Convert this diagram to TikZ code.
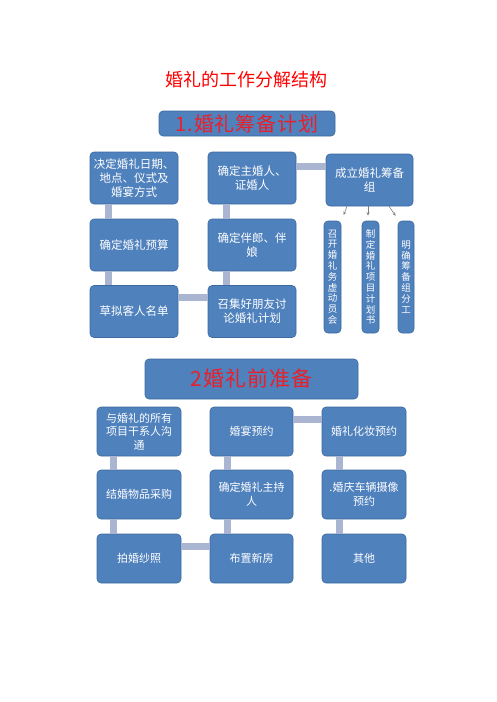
\documentclass[tikz,border=0pt]{standalone}
\usepackage{fontspec}
\setmainfont{Noto Sans CJK SC}
\usetikzlibrary{arrows.meta}
\definecolor{boxblue}{HTML}{4F81BD}
\definecolor{boxedge}{HTML}{3D6A9E}
\definecolor{barcol}{HTML}{A9B5D1}
\definecolor{headred}{HTML}{E8202A}

\begin{document}
\begin{tikzpicture}[x=1pt, y=-1pt,
	box/.style={draw=boxedge, fill=boxblue, line width=0.6pt, rounded corners=4pt, text=white, align=center, inner sep=1pt},
	task/.style={box, minimum width=88pt, minimum height=52pt, font=\fontsize{11.5}{14}\selectfont},
	prep/.style={box, minimum width=84pt, minimum height=49pt, font=\fontsize{11}{13.5}\selectfont},
	sub/.style={box, minimum width=17pt, minimum height=112pt, font=\fontsize{9.5}{10.8}\selectfont},
	bar/.style={barcol, line width=7pt},
	subarrow/.style={-{Stealth[length=3.5pt, width=3pt]}, gray, line width=0.6pt}]

	\useasboundingbox (0,0) rectangle (496,702);

	\node[text=red, font=\fontsize{18}{18}\selectfont] (title) at (246,80) {婚礼的工作分解结构};

	% 1. planning
	\node[box, minimum width=176pt, minimum height=25pt, text=headred, font=\fontsize{20}{20}\selectfont\addfontfeature{LetterSpace=4}] (plan) at (247,123.5) {1.婚礼筹备计划};

	\node[task] (a1) at (134,178) {决定婚礼日期、\\地点、仪式及\\婚宴方式};
	\node[task] (a2) at (134,245) {确定婚礼预算};
	\node[task] (a3) at (134,311.5) {草拟客人名单};
	\node[task] (b1) at (252,178) {确定主婚人、\\证婚人};
	\node[task] (b2) at (252,245) {确定伴郎、伴\\娘};
	\node[task] (b3) at (252,311.5) {召集好朋友讨\\论婚礼计划};
	\node[task, minimum width=87pt] (c1) at (369.5,180) {成立婚礼筹备\\组};

	\node[sub] (s1) at (332.5,277) {召\\开\\婚\\礼\\务\\虚\\动\\员\\会};
	\node[sub] (s2) at (370.5,277) {制\\定\\婚\\礼\\项\\目\\计\\划\\书};
	\node[sub, minimum width=16pt] (s3) at (406,277) {明\\确\\筹\\备\\组\\分\\工};

	\draw[bar] ([xshift=-26pt]a1.south) -- ([xshift=-26pt]a2.north);
	\draw[bar] ([xshift=-26pt]a2.south) -- ([xshift=-26pt]a3.north);
	\draw[bar] ([yshift=14pt]a3.east) -- ([yshift=14pt]b3.west);
	\draw[bar] ([xshift=-26pt]b3.north) -- ([xshift=-26pt]b2.south);
	\draw[bar] ([xshift=-26pt]b2.north) -- ([xshift=-26pt]b1.south);
	\draw[bar] ([yshift=12pt]b1.east) -- ([yshift=12pt]c1.west |- b1.east);

	\draw[subarrow, shorten >=6pt] ([xshift=-22.5pt]c1.south) -- ([xshift=9pt]s1.north);
	\draw[subarrow, shorten >=5pt] ([xshift=-1.5pt]c1.south) -- ([xshift=-2.5pt]s2.north);
	\draw[subarrow, shorten >=6pt] ([xshift=19.5pt]c1.south) -- ([xshift=-7pt]s3.north);

	% 2. preparation
	\node[box, minimum width=213pt, minimum height=40pt, text=headred, font=\fontsize{21}{21}\selectfont\addfontfeature{LetterSpace=5}] (prepare) at (251.5,379) {\raisebox{3pt}{2婚礼前准备}};

	\node[prep] (p1) at (139,431.5) {与婚礼的所有\\项目干系人沟\\通};
	\node[prep] (p2) at (139,494.5) {结婚物品采购};
	\node[prep] (p3) at (139,558.5) {拍婚纱照};
	\node[prep, minimum width=83pt] (q1) at (251.5,431.5) {婚宴预约};
	\node[prep, minimum width=83pt] (q2) at (251.5,494.5) {确定婚礼主持\\人};
	\node[prep, minimum width=83pt] (q3) at (251.5,558.5) {布置新房};
	\node[prep] (r1) at (364,431.5) {婚礼化妆预约};
	\node[prep] (r2) at (364,494.5) {.婚庆车辆摄像\\预约};
	\node[prep] (r3) at (364,558.5) {其他};

	\draw[bar] ([xshift=-26pt]p1.south) -- ([xshift=-26pt]p2.north);
	\draw[bar] ([xshift=-26pt]p2.south) -- ([xshift=-26pt]p3.north);
	\draw[bar] ([yshift=12.5pt]p3.east) -- ([yshift=12.5pt]q3.west);
	\draw[bar] ([xshift=-24.5pt]q3.north) -- ([xshift=-24.5pt]q2.south);
	\draw[bar] ([xshift=-24.5pt]q2.north) -- ([xshift=-24.5pt]q1.south);
	\draw[bar] ([yshift=12.5pt]q1.east) -- ([yshift=12.5pt]r1.west);
	\draw[bar] ([xshift=-25pt]r1.south) -- ([xshift=-25pt]r2.north);
	\draw[bar] ([xshift=-25pt]r2.south) -- ([xshift=-25pt]r3.north);

\end{tikzpicture}
\end{document}
